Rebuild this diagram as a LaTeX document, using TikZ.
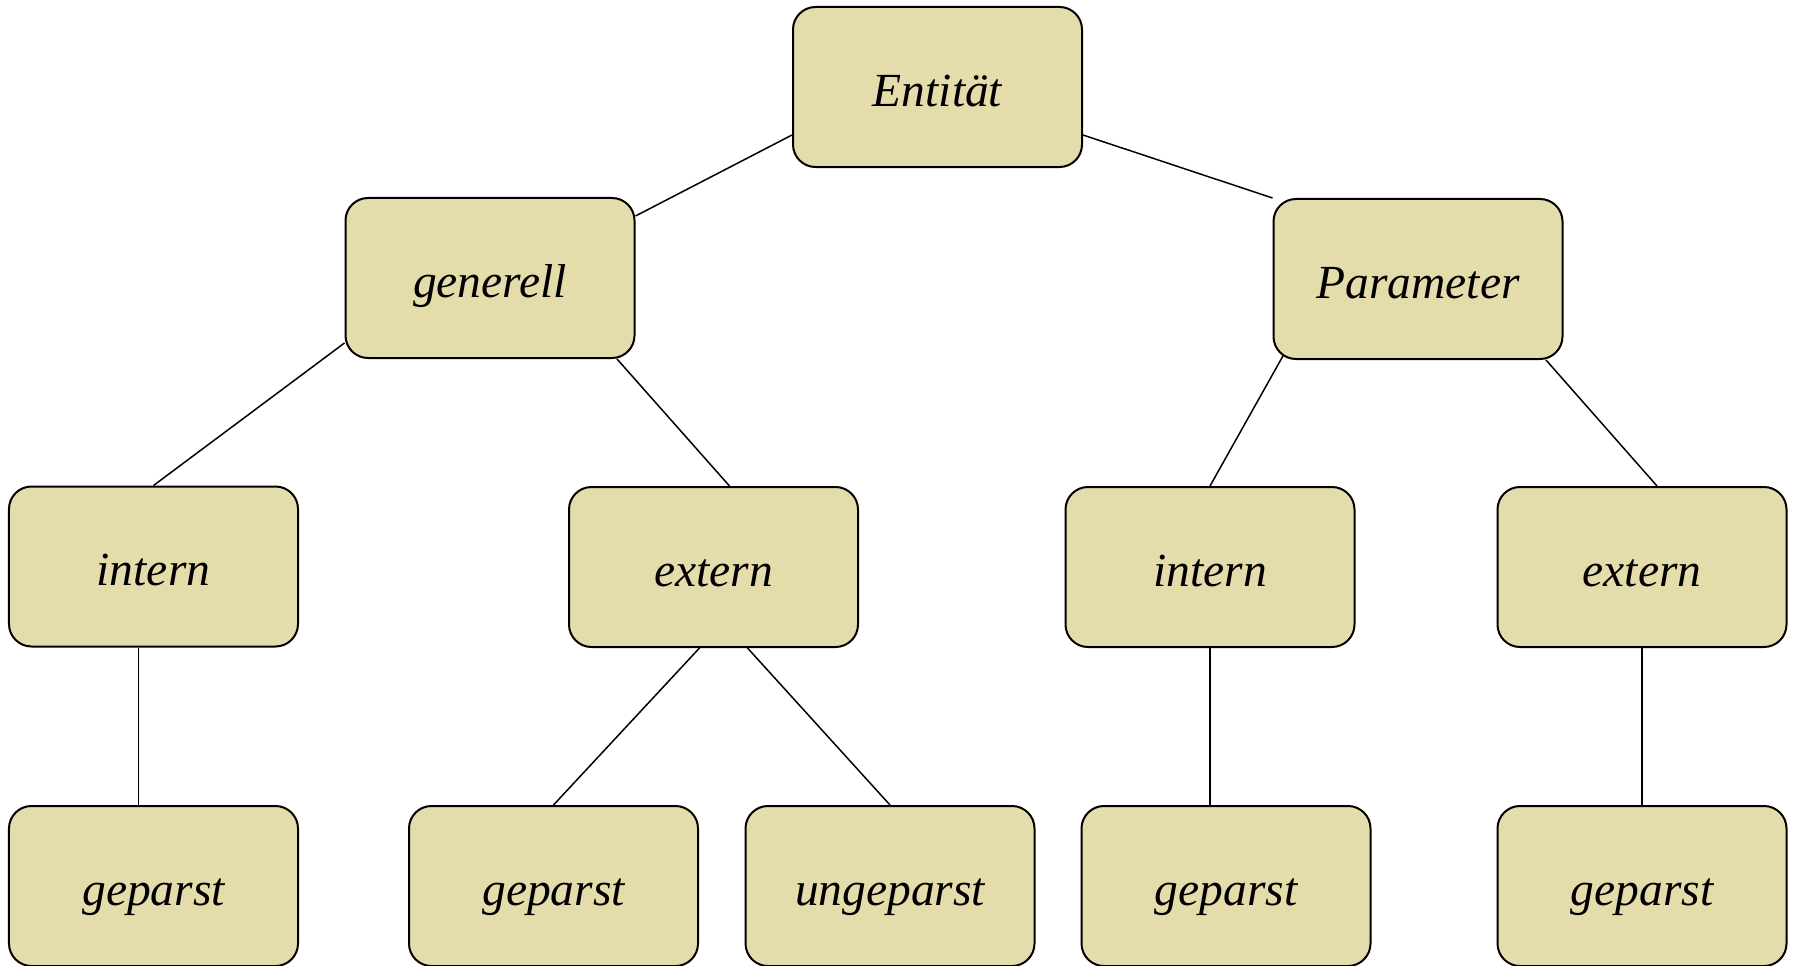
\documentclass[tikz,border=0pt]{standalone}
\usepackage{fontspec}
\setmainfont{Liberation Serif}
\usetikzlibrary{calc}
\definecolor{boxfill}{RGB}{229,220,171}
\tikzset{
  box/.style={draw=black, line width=0.8pt, fill=boxfill, rounded corners=9pt,
    minimum width=115.6pt, minimum height=64pt, inner sep=0pt,
    text height=15.2pt, text depth=0pt,
    font=\fontsize{19pt}{22pt}\selectfont\itshape},
  link/.style={draw=black, line width=0.6pt}
}
\begin{document}
\begin{tikzpicture}[x=0.4pt, y=-0.4pt]
\useasboundingbox (0,0) rectangle (1793,966);
\node[box] (ent) at (937.5,87) {Entität};
\node[box] (gen) at (490,278) {generell};
\node[box] (par) at (1418,279) {Parameter};
\node[box] (int1) at (153.5,566.5) {intern};
\node[box] (ext1) at (713.5,567) {extern};
\node[box] (int2) at (1210,567) {intern};
\node[box] (ext2) at (1642,567) {extern};
\node[box] (g1) at (153.5,886) {geparst};
\node[box] (g2) at (553.5,886) {geparst};
\node[box] (ung) at (890,886) {ungeparst};
\node[box] (g3) at (1226,886) {geparst};
\node[box] (g4) at (1642,886) {geparst};
\draw[link] ($(ent.west)+(0,48)$) -- ($(gen.east)+(0,-62)$);
\draw[link] ($(ent.east)+(0,48)$) -- (par.north west);
\draw[link] ($(gen.west)+(0,65)$) -- (int1.north);
\draw[link] ($(gen.south)+(127,0)$) -- ($(ext1.north)+(16,0)$);
\draw[link] ($(par.south west)+(11,-5)$) -- (int2.north);
\draw[link] ($(par.south)+(128,0)$) -- ($(ext2.north)+(15,0)$);
\draw[link] ($(int1.south)+(-15,0)$) -- ($(g1.north)+(-15,0)$);
\draw[link] ($(ext1.south)+(-14,0)$) -- (g2.north);
\draw[link] ($(ext1.south)+(34,0)$) -- (ung.north);
\draw[link] (int2.south) -- ($(g3.north)+(-16,0)$);
\draw[link] (ext2.south) -- (g4.north);
\end{tikzpicture}
\end{document}
